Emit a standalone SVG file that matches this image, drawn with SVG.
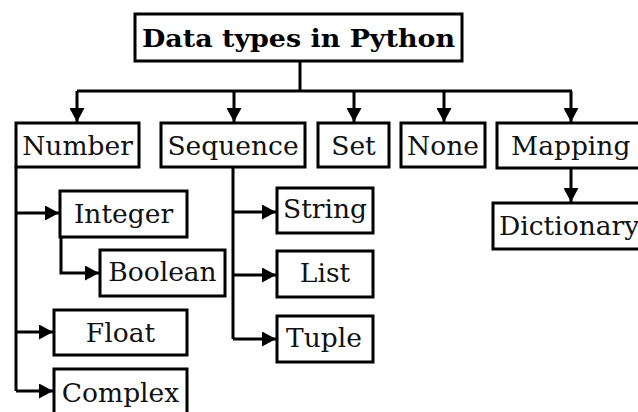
<svg xmlns="http://www.w3.org/2000/svg" width="638" height="412" viewBox="0 0 638 412">
  <defs>
    <marker id="ah" markerUnits="userSpaceOnUse" markerWidth="15" markerHeight="15" refX="14" refY="7.5" orient="auto">
      <path d="M0,0 L14,7.5 L0,15 z" fill="#000"/>
    </marker>
    <style>
      .box { fill: #fff; stroke: #000; stroke-width: 3; }
      .lbl { font-family: "DejaVu Serif", "Liberation Serif", serif; font-size: 26.5px; fill: #111; text-anchor: middle; }
      .lbl.s { text-anchor: start; }
      .ttl { font-family: "DejaVu Serif", "Liberation Serif", serif; font-size: 25px; font-weight: bold; fill: #000; text-anchor: middle; }
      .ln { fill: none; stroke: #000; stroke-width: 3; }
      .ar { fill: none; stroke: #000; stroke-width: 3; marker-end: url(#ah); }
    </style>
  </defs>
  <rect width="638" height="412" fill="#fff"/>

  <g id="connectors">
    <path class="ln" d="M300,61 V91"/>
    <path class="ln" d="M77,91 H572"/>
    <path class="ar" d="M77,91 V122"/>
    <path class="ar" d="M234,91 V122"/>
    <path class="ar" d="M354,91 V122"/>
    <path class="ar" d="M444,91 V122"/>
    <path class="ar" d="M571,91 V122"/>
    <path class="ar" d="M571,168 V202"/>
    <path class="ln" d="M16,167 V391"/>
    <path class="ar" d="M16,213 H59"/>
    <path class="ar" d="M16,332 H53"/>
    <path class="ar" d="M16,391 H53"/>
    <path class="ar" d="M61,237 V273 H99"/>
    <path class="ln" d="M233,167 V339"/>
    <path class="ar" d="M233,212 H276"/>
    <path class="ar" d="M233,275 H276"/>
    <path class="ar" d="M233,339 H276"/>
  </g>

  <g id="title">
    <rect class="box" x="135" y="14" width="327" height="47"/>
    <text class="ttl" x="298.5" y="46.5" textLength="313" lengthAdjust="spacingAndGlyphs">Data types in Python</text>
  </g>
  <g id="number">
    <rect class="box" x="16" y="123" width="123" height="44"/>
    <text class="lbl" x="77.5" y="155">Number</text>
  </g>
  <g id="sequence">
    <rect class="box" x="161" y="123" width="144" height="44"/>
    <text class="lbl" x="233" y="155">Sequence</text>
  </g>
  <g id="set">
    <rect class="box" x="318" y="123" width="71" height="44"/>
    <text class="lbl" x="353.5" y="155">Set</text>
  </g>
  <g id="none">
    <rect class="box" x="401" y="123" width="84" height="44"/>
    <text class="lbl" x="443" y="155">None</text>
  </g>
  <g id="mapping">
    <rect class="box" x="497" y="123" width="160" height="45"/>
    <text class="lbl s" x="511" y="155">Mapping</text>
  </g>
  <g id="dictionary">
    <rect class="box" x="493" y="203" width="160" height="46"/>
    <text class="lbl s" x="499" y="235">Dictionary</text>
  </g>
  <g id="integer">
    <rect class="box" x="60" y="191" width="127" height="46"/>
    <text class="lbl" x="123.5" y="223">Integer</text>
  </g>
  <g id="boolean">
    <rect class="box" x="100" y="250" width="125" height="46"/>
    <text class="lbl" x="162.5" y="281">Boolean</text>
  </g>
  <g id="float">
    <rect class="box" x="54" y="310" width="133" height="45"/>
    <text class="lbl" x="120.5" y="342">Float</text>
  </g>
  <g id="complex">
    <rect class="box" x="54" y="369" width="133" height="50"/>
    <text class="lbl" x="120.5" y="402">Complex</text>
  </g>
  <g id="string">
    <rect class="box" x="277" y="188" width="96" height="45"/>
    <text class="lbl" x="325" y="218">String</text>
  </g>
  <g id="list">
    <rect class="box" x="277" y="251" width="96" height="46"/>
    <text class="lbl" x="325" y="282">List</text>
  </g>
  <g id="tuple">
    <rect class="box" x="277" y="316" width="96" height="46"/>
    <text class="lbl" x="324" y="347">Tuple</text>
  </g>
</svg>
